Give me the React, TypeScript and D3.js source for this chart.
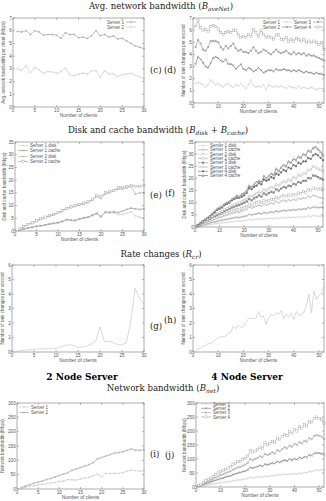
import React from 'react';
import * as d3 from 'd3';

// ---------- DATA ----------
const xTicks30 = [0, 5, 10, 15, 20, 25, 30];
const xTicks52 = [0, 10, 20, 30, 40, 50];

// (c) Avg network bandwidth per client, 2 node server
const avgNet2S1 = [5.95, 5.9, 6.0, 5.7, 6.0, 5.9, 5.65, 5.7, 5.7, 5.65, 5.4, 5.85, 5.7, 5.7, 5.45, 5.5, 5.4, 5.6, 6.0, 5.6, 5.7, 5.5, 5.6, 5.35, 5.4, 5.2, 5.0, 4.8, 4.7, 4.6];
const avgNet2S2 = [3.0, 2.9, 3.2, 2.7, 3.1, 2.9, 2.65, 2.8, 2.75, 2.65, 2.8, 3.05, 2.55, 2.45, 2.6, 2.65, 2.6, 2.85, 2.85, 2.3, 2.85, 2.6, 2.6, 2.4, 2.55, 2.6, 2.65, 2.5, 2.35, 2.25];

// (d) 4 node server
const avgNet4S1 = [1.6, 1.7, 1.6, 1.5, 1.3, 1.5, 1.9, 1.7, 1.5, 1.6, 1.4, 1.3, 1.5, 1.6, 1.4, 1.3, 1.5, 1.4, 1.6, 1.4, 1.2, 1.5, 1.9, 1.4, 1.3, 1.4, 1.3, 1.5, 1.1, 1.5, 1.4, 1.3, 1.4, 1.3, 1.4, 1.3, 1.2, 1.4, 1.3, 1.3, 1.2, 1.4, 1.2, 1.3, 1.2, 1.2, 1.3, 1.2, 1.1, 1.2, 1.2, 1.2];
const avgNet4S2 = [3.2, 3.8, 3.6, 3.3, 3.0, 2.9, 3.3, 3.7, 3.8, 3.7, 3.5, 3.4, 3.6, 3.2, 3.2, 3.1, 2.8, 3.0, 3.2, 2.8, 2.7, 2.9, 2.8, 2.6, 2.7, 2.9, 2.7, 2.5, 2.6, 2.7, 2.7, 2.6, 2.8, 2.7, 2.7, 2.8, 2.7, 2.7, 2.6, 2.7, 2.6, 2.7, 2.6, 2.5, 2.6, 2.5, 2.5, 2.4, 2.5, 2.4, 2.4, 2.3];
const avgNet4S3 = [4.6, 5.2, 4.9, 4.4, 4.3, 4.6, 5.1, 5.1, 5.1, 5.0, 4.6, 4.4, 4.7, 4.5, 4.7, 4.9, 4.5, 4.3, 4.4, 4.2, 4.2, 4.1, 4.3, 4.6, 4.3, 4.1, 4.2, 4.4, 4.3, 4.1, 4.0, 4.2, 4.4, 4.2, 4.1, 4.2, 4.3, 4.1, 4.0, 4.2, 4.0, 4.1, 4.0, 4.1, 3.9, 4.0, 3.9, 3.9, 3.8, 3.7, 3.6, 3.5];
const avgNet4S4 = [6.3, 6.8, 6.2, 6.0, 6.05, 5.9, 6.3, 6.4, 6.3, 6.1, 5.8, 5.65, 5.8, 5.9, 5.8, 6.0, 6.0, 5.65, 5.4, 5.5, 5.4, 5.65, 5.5, 6.05, 5.8, 5.5, 6.0, 5.65, 5.4, 5.5, 5.4, 5.25, 5.6, 5.65, 5.25, 5.2, 5.4, 5.1, 5.25, 5.1, 5.3, 5.2, 5.1, 5.2, 5.0, 5.1, 5.0, 5.1, 5.0, 4.8, 5.0, 4.4];

// (e) disk & cache, 2 node server
const disk2S1Disk = [0.3, 0.7, 1.1, 1.4, 1.8, 2.0, 2.3, 2.6, 2.9, 3.2, 3.6, 4.3, 4.1, 4.0, 4.6, 5.0, 5.3, 6.0, 6.7, 5.5, 7.2, 7.1, 7.2, 6.5, 6.5, 7.0, 7.5, 6.0, 5.5, 5.0];
const disk2S1Cache = [0.3, 0.8, 1.2, 1.5, 1.9, 2.1, 2.4, 2.8, 3.0, 3.3, 3.8, 4.5, 4.3, 4.2, 4.8, 5.2, 5.5, 6.3, 7.0, 5.7, 7.5, 7.4, 7.5, 7.3, 7.8, 8.5, 9.0, 8.7, 8.5, 8.7];
const disk2S2Disk = [0.7, 1.6, 2.4, 3.0, 3.8, 4.6, 5.3, 5.8, 6.3, 7.0, 7.7, 8.7, 9.2, 9.7, 10.2, 10.6, 11.2, 12.2, 13.5, 12.8, 14.5, 15.0, 15.8, 16.5, 16.5, 17.0, 17.5, 14.5, 15.0, 15.0];
const disk2S2Cache = [0.8, 1.8, 2.6, 3.2, 4.0, 4.8, 5.5, 6.0, 6.5, 7.2, 8.0, 9.0, 9.5, 10.0, 10.5, 11.0, 11.5, 12.5, 14.0, 13.5, 15.0, 15.5, 16.0, 17.0, 17.2, 17.5, 18.0, 17.5, 17.5, 18.0];

// (f) disk & cache, 4 node server
const disk4S1Disk = [0.1, 0.3, 0.5, 0.7, 0.8, 1.0, 1.1, 1.3, 1.4, 1.5, 1.7, 1.8, 1.9, 2.0, 2.1, 2.3, 2.4, 2.3, 2.5, 2.6, 2.7, 3.2, 2.9, 3.1, 3.2, 3.4, 3.1, 3.5, 3.3, 3.5, 3.6, 3.4, 3.8, 3.6, 3.8, 4.0, 3.7, 4.0, 3.8, 4.1, 3.9, 4.2, 4.0, 4.3, 4.1, 4.6, 4.3, 4.7, 4.6, 4.4, 4.5, 4.4];
const disk4S1Cache = [0.2, 0.5, 0.8, 1.1, 1.3, 1.6, 1.9, 2.1, 2.3, 2.6, 2.8, 3.0, 3.2, 3.4, 3.6, 3.8, 4.0, 3.9, 4.2, 4.4, 4.6, 5.2, 4.9, 5.2, 5.4, 5.7, 5.4, 6.0, 5.7, 6.0, 6.2, 6.0, 6.6, 6.3, 6.6, 6.9, 6.6, 7.0, 6.8, 7.1, 6.9, 7.4, 7.2, 7.5, 7.4, 8.0, 7.7, 8.2, 8.2, 8.0, 8.1, 8.0];
const disk4S2Disk = [0.3, 0.8, 1.2, 1.6, 2.0, 2.4, 2.8, 3.2, 3.5, 3.9, 4.2, 4.6, 4.9, 5.2, 5.6, 5.9, 6.2, 6.0, 6.5, 6.8, 7.2, 8.2, 7.8, 8.2, 8.6, 9.0, 8.6, 9.5, 9.0, 9.5, 9.8, 9.6, 10.5, 10.0, 10.6, 11.0, 10.6, 11.2, 10.8, 11.4, 11.0, 11.8, 11.5, 12.0, 11.8, 12.8, 12.3, 13.0, 12.8, 12.3, 12.0, 11.8];
const disk4S2Cache = [0.4, 0.9, 1.4, 1.9, 2.3, 2.8, 3.3, 3.7, 4.0, 4.5, 4.8, 5.3, 5.6, 6.0, 6.5, 6.8, 7.2, 7.0, 7.5, 8.0, 8.3, 9.5, 9.0, 9.5, 10.0, 10.5, 10.0, 11.0, 10.5, 11.0, 11.5, 11.2, 12.2, 11.8, 12.5, 13.0, 12.5, 13.2, 12.8, 13.5, 13.2, 14.0, 13.8, 14.5, 14.2, 15.5, 15.0, 16.0, 16.0, 15.5, 15.8, 15.5];
const disk4S3Disk = [0.5, 1.1, 1.7, 2.3, 2.8, 3.3, 4.0, 4.5, 5.0, 5.5, 6.0, 6.5, 7.0, 7.5, 8.0, 8.4, 8.8, 9.0, 9.5, 10.0, 10.5, 11.5, 11.0, 11.8, 12.3, 13.0, 12.5, 13.8, 13.3, 14.0, 14.5, 14.2, 15.5, 15.0, 15.8, 16.5, 16.2, 17.0, 16.8, 17.8, 17.5, 18.5, 18.2, 19.0, 19.0, 20.2, 20.0, 21.2, 21.0, 20.5, 20.0, 19.5];
const disk4S3Cache = [0.5, 1.2, 1.9, 2.5, 3.1, 3.7, 4.4, 5.0, 5.6, 6.0, 6.5, 7.2, 7.6, 8.2, 8.8, 9.2, 9.8, 10.0, 10.5, 11.0, 11.5, 12.8, 12.5, 13.2, 13.8, 14.5, 14.0, 15.5, 15.0, 15.8, 16.5, 16.0, 17.5, 17.0, 18.0, 18.8, 18.5, 19.5, 19.0, 20.5, 20.0, 21.5, 21.0, 22.0, 22.0, 23.5, 23.5, 25.0, 24.5, 24.0, 23.5, 23.0];
const disk4S4Disk = [0.6, 1.4, 2.2, 2.9, 3.6, 4.3, 5.2, 6.0, 7.0, 7.5, 8.0, 9.0, 9.5, 10.0, 11.0, 11.5, 12.0, 12.0, 12.5, 13.0, 14.0, 16.0, 15.5, 16.5, 17.0, 18.0, 17.5, 19.5, 19.0, 19.5, 20.5, 20.0, 22.0, 21.5, 22.5, 23.5, 23.0, 24.5, 24.0, 25.5, 25.0, 26.5, 26.0, 27.0, 27.0, 28.5, 28.0, 29.5, 30.0, 29.5, 28.5, 27.5];
const disk4S4Cache = [0.7, 1.5, 2.3, 3.0, 3.8, 4.5, 5.5, 6.5, 7.5, 8.0, 8.5, 9.5, 10.0, 10.5, 11.5, 12.0, 13.0, 12.5, 13.5, 14.0, 15.0, 17.0, 16.5, 17.5, 18.5, 19.0, 18.5, 21.0, 20.0, 21.0, 22.0, 21.5, 24.0, 23.0, 24.5, 25.5, 25.0, 27.0, 26.5, 28.0, 27.5, 29.0, 28.5, 30.0, 29.5, 31.5, 31.0, 32.5, 33.0, 32.0, 31.0, 29.5];

// (g), (h) rate changes
const rate2 = [0.05, 0.1, 0.12, 0.15, 0.2, 0.22, 0.22, 0.22, 0.22, 0.25, 0.35, 0.45, 0.5, 0.45, 0.3, 0.35, 0.4, 0.55, 0.75, 1.75, 0.7, 0.75, 0.65, 0.5, 0.5, 0.65, 2.1, 4.4, 3.7, 3.3];
const rate4 = [0.1, 0.2, 0.3, 0.4, 0.45, 0.6, 0.55, 0.7, 0.85, 1.0, 1.05, 1.05, 1.1, 1.3, 1.35, 1.8, 1.6, 1.85, 1.7, 1.75, 2.05, 2.3, 2.35, 2.3, 2.3, 2.8, 2.4, 2.5, 1.9, 2.3, 2.6, 2.5, 2.7, 2.6, 2.85, 2.3, 2.6, 2.4, 2.7, 2.25, 2.8, 2.5, 2.6, 2.7, 3.2, 4.0, 2.7, 4.2, 3.6, 3.9, 4.1, 4.5];

// (i), (j) network bandwidth
const net2S1 = [3, 6, 9, 11, 14, 16, 19, 21, 23, 26, 28, 33, 32, 31, 35, 38, 40, 46, 52, 43, 55, 54, 55, 54, 57, 62, 66, 64, 62, 64];
const net2S2 = [5, 10, 15, 20, 24, 28, 33, 37, 42, 47, 52, 57, 65, 70, 75, 80, 85, 92, 105, 110, 115, 120, 125, 127, 130, 135, 140, 135, 135, 137];
const net4S1 = [1, 3, 5, 6, 8, 9, 11, 12, 14, 15, 16, 18, 19, 20, 22, 24, 25, 25, 27, 28, 30, 35, 32, 34, 35, 37, 35, 39, 37, 39, 41, 40, 44, 42, 44, 46, 44, 47, 45, 48, 46, 50, 48, 52, 51, 56, 54, 58, 60, 59, 61, 62];
const net4S2 = [3, 6, 9, 12, 15, 18, 21, 24, 27, 30, 32, 35, 38, 40, 44, 47, 50, 52, 55, 57, 61, 70, 67, 70, 73, 77, 74, 82, 79, 82, 86, 84, 91, 88, 92, 96, 93, 99, 96, 101, 98, 105, 102, 108, 106, 115, 112, 120, 122, 121, 119, 116];
const net4S3 = [4, 8, 12, 17, 21, 25, 30, 34, 38, 42, 45, 49, 53, 56, 62, 66, 70, 72, 76, 80, 86, 100, 96, 100, 104, 110, 106, 118, 114, 118, 124, 120, 132, 128, 135, 142, 138, 148, 144, 154, 150, 160, 156, 165, 162, 175, 170, 182, 185, 183, 180, 172];
const net4S4 = [5, 10, 16, 22, 27, 32, 38, 44, 50, 55, 58, 63, 68, 72, 80, 85, 90, 92, 98, 103, 110, 130, 125, 128, 135, 142, 138, 158, 150, 155, 163, 158, 175, 170, 180, 188, 183, 198, 192, 205, 200, 215, 210, 222, 218, 235, 230, 245, 250, 245, 240, 228];

// ---------- DRAWING ----------
type Series = { label: string; values: number[]; color: string; marker: string; sw?: number };
type LegendItem = { x: number; y: number; anchor: 'start' | 'end' };
type PanelProps = {
  frame: [number, number, number, number];
  xMax: number; xTicks: number[];
  yMax: number; yTicks: number[];
  series: Series[];
  yLabel: string; yLabelX: number;
  legend?: LegendItem[];
};

const SANS = 'Liberation Sans, Arial, sans-serif';
const SERIF = 'DejaVu Serif, serif';

function Marker({ type, x, y, c, s = 1.1 }: { type: string; x: number; y: number; c: string; s?: number }) {
  const sw = 0.4;
  switch (type) {
    case 'plus':
      return <path d={`M${x - s},${y}H${x + s}M${x},${y - s}V${y + s}`} stroke={c} strokeWidth={sw} fill="none" />;
    case 'cross':
      return <path d={`M${x - s},${y - s}L${x + s},${y + s}M${x - s},${y + s}L${x + s},${y - s}`} stroke={c} strokeWidth={sw} fill="none" />;
    case 'star':
      return <path d={`M${x - s},${y}H${x + s}M${x},${y - s}V${y + s}M${x - s},${y - s}L${x + s},${y + s}M${x - s},${y + s}L${x + s},${y - s}`} stroke={c} strokeWidth={sw} fill="none" />;
    case 'square':
      return <rect x={x - s} y={y - s} width={2 * s} height={2 * s} stroke={c} strokeWidth={sw} fill="white" />;
    case 'fsquare':
      return <rect x={x - s} y={y - s} width={2 * s} height={2 * s} fill={c} />;
    case 'circle':
      return <circle cx={x} cy={y} r={s} stroke={c} strokeWidth={sw} fill="white" />;
    case 'fcircle':
      return <circle cx={x} cy={y} r={s} fill={c} />;
    case 'triangle':
      return <path d={`M${x},${y - s}L${x + s},${y + s * 0.8}L${x - s},${y + s * 0.8}Z`} stroke={c} strokeWidth={sw} fill="white" />;
    default:
      return null;
  }
}

function Panel(p: PanelProps) {
  const [x0, y0, x1, y1] = p.frame;
  const xs = d3.scaleLinear().domain([0, p.xMax]).range([x0, x1]);
  const ys = d3.scaleLinear().domain([0, p.yMax]).range([y1, y0]);
  const line = d3.line<number>().x((_, i) => xs(i + 1)).y((d) => ys(d));
  const tl = 2;
  const tickColor = '#777';
  const textColor = '#555';
  return (
    <g>
      {p.series.map((s, k) => (
        <g key={k}>
          <path d={line(s.values) || ''} fill="none" stroke={s.color} strokeWidth={s.sw ?? 0.6} />
          {s.marker !== 'none' && s.values.map((v, i) => (
            <Marker key={i} type={s.marker} x={xs(i + 1)} y={ys(v)} c={s.color} />
          ))}
        </g>
      ))}
      <rect x={x0} y={y0} width={x1 - x0} height={y1 - y0} fill="none" stroke={tickColor} strokeWidth={0.6} />
      {p.xTicks.map((t) => (
        <g key={'x' + t}>
          <line x1={xs(t)} x2={xs(t)} y1={y1} y2={y1 - tl} stroke={tickColor} strokeWidth={0.5} />
          <line x1={xs(t)} x2={xs(t)} y1={y0} y2={y0 + tl} stroke={tickColor} strokeWidth={0.5} />
          <text x={xs(t)} y={y1 + 4.8} fontSize={4.6} fontFamily={SANS} fill={textColor} textAnchor="middle">{t}</text>
        </g>
      ))}
      {p.yTicks.map((t) => (
        <g key={'y' + t}>
          <line x1={x0} x2={x0 + tl} y1={ys(t)} y2={ys(t)} stroke={tickColor} strokeWidth={0.5} />
          <line x1={x1} x2={x1 - tl} y1={ys(t)} y2={ys(t)} stroke={tickColor} strokeWidth={0.5} />
          <text x={x0 - 1.3} y={ys(t) + 1.6} fontSize={4.6} fontFamily={SANS} fill={textColor} textAnchor="end">{t}</text>
        </g>
      ))}
      <text x={(x0 + x1) / 2} y={y1 + 10.2} fontSize={4.8} fontFamily={SANS} fill={textColor} textAnchor="middle">Number of clients</text>
      <text transform={`translate(${p.yLabelX},${(y0 + y1) / 2}) rotate(-90)`} fontSize={4.5} fontFamily={SANS} fill={textColor} textAnchor="middle">{p.yLabel}</text>
      {p.legend && p.legend.map((l, k) => {
        const s = p.series[k];
        const sx0 = l.anchor === 'end' ? l.x + 2 : l.x;
        const sx1 = sx0 + 10;
        const tx = l.anchor === 'end' ? l.x : sx1 + 2;
        return (
          <g key={'l' + k}>
            <text x={tx} y={l.y + 1.6} fontSize={4.5} fontFamily={SANS} fill={textColor} textAnchor={l.anchor}>{s.label}</text>
            <line x1={sx0} x2={sx1} y1={l.y} y2={l.y} stroke={s.color} strokeWidth={0.6} />
            {s.marker !== 'none' && <Marker type={s.marker} x={(sx0 + sx1) / 2} y={l.y} c={s.color} />}
          </g>
        );
      })}
    </g>
  );
}

const SUB_FS = 6;
const SUB_DY = 1.8;

export default function App() {
  const y7 = d3.range(0, 8);
  const y35 = [0, 5, 10, 15, 20, 25, 30, 35];
  const y6 = d3.range(0, 7);
  const y300 = [0, 50, 100, 150, 200, 250, 300];
  const titleStyle = { fontFamily: SERIF, fontSize: 8.6, fill: '#222' } as const;
  const lbl = { fontFamily: SERIF, fontSize: 8.6, fill: '#222' } as const;

  return (
    <svg width={326} height={501} style={{ position: 'absolute', left: 0, top: 0, background: 'white' }}>
      <rect width={326} height={501} fill="white" />
      <text x={161} y={9} textAnchor="middle" {...titleStyle}>
        Avg. network bandwidth (<tspan fontStyle="italic">B</tspan>
        <tspan fontStyle="italic" fontSize={SUB_FS} dy={SUB_DY}>aveNet</tspan>
        <tspan dy={-SUB_DY}>)</tspan>
      </text>
      <text x={158} y={133} textAnchor="middle" {...titleStyle}>
        Disk and cache bandwidth  (<tspan fontStyle="italic">B</tspan>
        <tspan fontStyle="italic" fontSize={SUB_FS} dy={SUB_DY}>disk</tspan>
        <tspan dy={-SUB_DY}> + </tspan>
        <tspan fontStyle="italic">B</tspan>
        <tspan fontStyle="italic" fontSize={SUB_FS} dy={SUB_DY}>cache</tspan>
        <tspan dy={-SUB_DY}>)</tspan>
      </text>
      <text x={161} y={257} textAnchor="middle" {...titleStyle}>
        Rate changes  (<tspan fontStyle="italic">R</tspan>
        <tspan fontStyle="italic" fontSize={SUB_FS} dy={SUB_DY}>cr</tspan>
        <tspan dy={-SUB_DY}>)</tspan>
      </text>
      <text x={163} y={391} textAnchor="middle" {...titleStyle}>
        Network bandwidth  (<tspan fontStyle="italic">B</tspan>
        <tspan fontStyle="italic" fontSize={SUB_FS} dy={SUB_DY}>net</tspan>
        <tspan dy={-SUB_DY}>)</tspan>
      </text>
      <text x={82} y={380} textAnchor="middle" fontFamily={SERIF} fontWeight="bold" fontSize={9}>2 Node Server</text>
      <text x={247} y={380} textAnchor="middle" fontFamily={SERIF} fontWeight="bold" fontSize={9}>4 Node Server</text>

      <text x={150} y={73} {...lbl}>(c)</text>
      <text x={164} y={73} {...lbl}>(d)</text>
      <text x={150} y={198} {...lbl}>(e)</text>
      <text x={165} y={196} {...lbl}>(f)</text>
      <text x={150} y={329} {...lbl}>(g)</text>
      <text x={164} y={323} {...lbl}>(h)</text>
      <text x={150} y={457} {...lbl}>(i)</text>
      <text x={165} y={458} {...lbl}>(j)</text>

      <Panel frame={[13, 18, 144, 107]} xMax={30} xTicks={xTicks30} yMax={7} yTicks={y7}
        yLabel="Avg. network bandwidth per client (Mbps)" yLabelX={5}
        series={[
          { label: 'Server 1', values: avgNet2S1, color: '#999', marker: 'plus' },
          { label: 'Server 2', values: avgNet2S2, color: '#c8c8c8', marker: 'cross' },
        ]}
        legend={[{ x: 124, y: 22, anchor: 'end' }, { x: 124, y: 27, anchor: 'end' }]} />

      <Panel frame={[193, 18, 324, 103]} xMax={52} xTicks={xTicks52} yMax={7} yTicks={y7}
        yLabel="Number of rate changes per second" yLabelX={185}
        series={[
          { label: 'Server 1', values: avgNet4S1, color: '#d0d0d0', marker: 'plus' },
          { label: 'Server 2', values: avgNet4S2, color: '#707070', marker: 'cross' },
          { label: 'Server 3', values: avgNet4S3, color: '#909090', marker: 'star' },
          { label: 'Server 4', values: avgNet4S4, color: '#999', marker: 'square' },
        ]}
        legend={[{ x: 280, y: 22, anchor: 'end' }, { x: 280, y: 27, anchor: 'end' }, { x: 311, y: 22, anchor: 'end' }, { x: 311, y: 27, anchor: 'end' }]} />

      <Panel frame={[15, 142, 144, 231]} xMax={30} xTicks={xTicks30} yMax={35} yTicks={y35}
        yLabel="Disk and cache bandwidth (Mbps)" yLabelX={6}
        series={[
          { label: 'Server 1 disk', values: disk2S1Disk, color: '#c8c8c8', marker: 'plus' },
          { label: 'Server 1 cache', values: disk2S1Cache, color: '#8c8c8c', marker: 'cross' },
          { label: 'Server 2 disk', values: disk2S2Disk, color: '#b4b4b4', marker: 'star' },
          { label: 'Server 2 cache', values: disk2S2Cache, color: '#999', marker: 'square' },
        ]}
        legend={[{ x: 18, y: 145.5, anchor: 'start' }, { x: 18, y: 150.5, anchor: 'start' }, { x: 18, y: 156.5, anchor: 'start' }, { x: 18, y: 161.5, anchor: 'start' }]} />

      <Panel frame={[195, 142, 323, 227]} xMax={52} xTicks={xTicks52} yMax={35} yTicks={y35}
        yLabel="Disk and cache bandwidth (Mbps)" yLabelX={186}
        series={[
          { label: 'Server 1 disk', values: disk4S1Disk, color: '#d4d4d4', marker: 'plus' },
          { label: 'Server 1 cache', values: disk4S1Cache, color: '#999', marker: 'cross' },
          { label: 'Server 2 disk', values: disk4S2Disk, color: '#c4c4c4', marker: 'star' },
          { label: 'Server 2 cache', values: disk4S2Cache, color: '#aaa', marker: 'square' },
          { label: 'Server 3 disk', values: disk4S3Disk, color: '#8c8c8c', marker: 'fsquare' },
          { label: 'Server 3 cache', values: disk4S3Cache, color: '#a4a4a4', marker: 'circle' },
          { label: 'Server 4 disk', values: disk4S4Disk, color: '#6c6c6c', marker: 'fcircle' },
          { label: 'Server 4 cache', values: disk4S4Cache, color: '#5c5c5c', marker: 'triangle' },
        ]}
        legend={[145.5, 149.8, 154.1, 158.4, 162.7, 167, 171.3, 175.6].map((y) => ({ x: 198, y, anchor: 'start' as const }))} />

      <Panel frame={[12, 265, 144, 352]} xMax={30} xTicks={xTicks30} yMax={6} yTicks={y6}
        yLabel="Number of rate changes per second" yLabelX={4}
        series={[{ label: 'rate', values: rate2, color: '#c8c8c8', marker: 'none', sw: 0.7 }]} />

      <Panel frame={[193, 265, 324, 352]} xMax={52} xTicks={xTicks52} yMax={6} yTicks={y6}
        yLabel="Number of rate changes per second" yLabelX={185}
        series={[{ label: 'rate', values: rate4, color: '#c8c8c8', marker: 'none', sw: 0.7 }]} />

      <Panel frame={[17, 403, 144, 489]} xMax={30} xTicks={xTicks30} yMax={300} yTicks={y300}
        yLabel="Network bandwidth (Mbps)" yLabelX={4}
        series={[
          { label: 'Server 1', values: net2S1, color: '#c8c8c8', marker: 'plus' },
          { label: 'Server 2', values: net2S2, color: '#999', marker: 'cross' },
        ]}
        legend={[{ x: 19, y: 407, anchor: 'start' }, { x: 19, y: 412.5, anchor: 'start' }]} />

      <Panel frame={[196, 403, 324, 487]} xMax={52} xTicks={xTicks52} yMax={300} yTicks={y300}
        yLabel="Network bandwidth (Mbps)" yLabelX={186}
        series={[
          { label: 'Server 1', values: net4S1, color: '#d0d0d0', marker: 'plus' },
          { label: 'Server 2', values: net4S2, color: '#777', marker: 'cross' },
          { label: 'Server 3', values: net4S3, color: '#aaa', marker: 'star' },
          { label: 'Server 4', values: net4S4, color: '#a0a0a0', marker: 'square' },
        ]}
        legend={[404, 408.3, 412.6, 416.9].map((y) => ({ x: 201, y, anchor: 'start' as const }))} />
    </svg>
  );
}
